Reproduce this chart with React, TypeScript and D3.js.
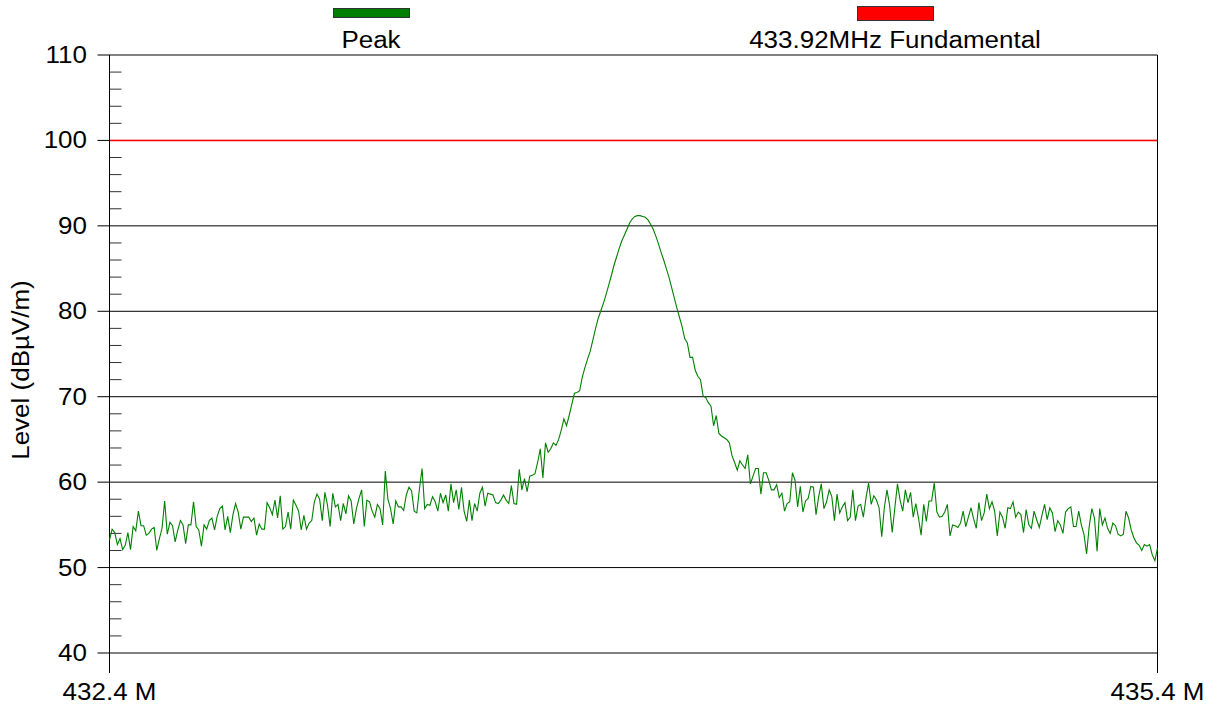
import React from "react";
import * as d3 from "d3";

// ---- Data ----
const startFreqMHz = 432.4;
const stopFreqMHz = 435.4;
const limitLevel = 100; // 433.92MHz Fundamental limit
const yTicks = [40, 50, 60, 70, 80, 90, 100, 110];
const yMinorTicks = [42, 44, 46, 48, 52, 54, 56, 58, 62, 64, 66, 68, 72, 74, 76, 78, 82, 84, 86, 88, 92, 94, 96, 98, 102, 104, 106, 108];
const xTickLabels = ["432.4 M", "435.4 M"];
const legendNames = ["Peak", "433.92MHz Fundamental"];

const peakLow1 = [53.2, 54.5, 54.1, 52.7, 53.4, 52.1, 52.6, 54.1, 52.1, 54.8, 54.3, 56.6, 54.9, 54.9, 53.8, 54.0, 54.5, 54.7, 52.0, 53.4, 54.6, 57.8, 53.9, 55.3, 54.9, 53.0, 54.4, 55.5, 55.0, 52.8, 55.0, 55.0, 57.7, 54.8, 54.4, 52.5, 55.0, 54.5, 55.5, 55.8, 54.4, 56.0, 56.9, 57.2, 54.4, 56.0, 54.1, 56.2, 57.5, 56.5, 54.5, 55.9, 55.9, 55.9, 55.4, 55.8, 53.8, 55.1, 54.5, 54.5, 57.6, 57.0, 56.2, 57.9, 55.8, 58.4];
const peakLow2 = [54.5, 54.8, 56.5, 54.5, 57.9, 57.3, 56.6, 54.4, 56.1, 54.5, 55.2, 55.5, 57.7, 58.6, 58.0, 55.5, 58.8, 57.3, 54.8, 58.7, 57.1, 57.4, 55.5, 57.5, 56.3, 58.4, 57.8, 55.1, 56.9, 58.1, 59.1, 54.8, 57.9, 57.7, 56.6, 55.9, 57.4, 56.9, 55.0, 61.3, 58.0, 56.9, 55.1, 57.8, 57.1, 57.1, 56.7, 58.5, 59.4, 59.0, 56.6, 56.4, 59.2, 61.6, 56.9, 57.4, 57.3, 58.3, 57.7, 56.6, 58.7, 57.6, 58.5, 56.6, 59.8, 57.6];
const peakRise = [59.1, 56.8, 59.4, 56.6, 55.4, 57.9, 55.5, 57.5, 56.6, 58.7, 59.4, 57.2, 58.7, 58.6, 58.5, 57.6, 57.5, 57.9, 58.5, 57.9, 57.5, 59.6, 57.5, 57.4, 61.5, 59.1, 60.4, 58.9, 60.7, 60.8, 61.0, 62.3, 63.9, 60.5, 64.6, 63.5, 63.9, 64.6, 64.3, 65.0, 66.1, 67.4, 66.6, 67.8, 69.1, 70.4, 70.5, 70.7];
const peakTop = [72.3, 73.4, 74.4, 75.3, 76.6, 77.9, 79.1, 80.0, 80.9, 81.9, 83.0, 84.1, 85.3, 86.3, 87.3, 88.2, 88.9, 89.6, 90.3, 90.8, 91.1, 91.2, 91.2, 91.1, 91.0, 90.7, 90.2, 89.6, 88.8, 87.9, 86.9, 86.0, 85.0, 84.0, 82.8, 81.6, 80.4, 79.3, 78.2, 76.8, 76.3, 74.6, 74.6, 73.1, 72.4, 72.0];
const peakFall = [70.1, 69.9, 69.3, 68.9, 66.6, 67.8, 65.7, 65.4, 65.2, 65.0, 64.6, 63.1, 62.3, 61.4, 62.5, 62.0, 61.6, 63.2, 59.8, 60.7, 61.6, 61.6, 58.6, 61.1, 61.1, 60.2, 59.1, 59.1, 59.7, 58.2, 58.7, 56.6, 57.5, 57.7, 61.1, 60.2, 57.1, 59.5, 56.5, 57.8, 58.1, 59.5, 59.4, 56.2, 58.3];
const peakHigh1 = [59.8, 56.9, 57.7, 59.1, 58.3, 55.5, 58.6, 56.4, 57.1, 57.6, 55.5, 55.9, 59.1, 55.5, 57.2, 57.4, 55.9, 58.1, 59.9, 57.4, 58.4, 57.9, 57.0, 53.6, 57.0, 59.1, 57.3, 54.1, 57.0, 59.8, 57.9, 56.6, 59.1, 57.6, 58.8, 55.9, 57.5, 55.8, 53.8, 57.4, 55.4, 57.8, 57.8, 59.9, 56.5, 55.9, 56.0, 56.5, 57.4, 53.7, 55.0, 54.9, 54.7, 55.2, 56.6, 54.8, 55.9, 57.0, 55.7, 54.6, 57.6, 55.5, 56.4, 58.6, 56.9];
const peakHigh2 = [57.7, 56.6, 53.7, 56.5, 55.9, 54.6, 57.0, 56.9, 57.7, 55.9, 56.5, 56.2, 54.1, 56.8, 55.0, 54.6, 56.6, 55.6, 54.7, 56.1, 57.4, 55.6, 57.0, 56.4, 54.2, 55.5, 55.0, 54.0, 56.5, 56.9, 57.1, 54.8, 54.8, 56.6, 55.0, 53.9, 51.6, 54.8, 56.9, 55.8, 51.9, 56.9, 55.0, 55.8, 54.6, 54.0, 55.2, 54.9, 53.9, 53.7, 53.9, 56.6, 55.8, 54.4, 53.5, 52.9, 52.6, 52.0, 52.7, 52.5, 52.7, 51.5, 50.8, 52.3];

const peakLevels = [...peakLow1, ...peakLow2, ...peakRise, ...peakTop, ...peakFall, ...peakHigh1, ...peakHigh2];

const FONT = "'Liberation Sans', Arial, Helvetica, sans-serif";
const FS = 23;
const SX = 1.13;

export default function App() {
  const W = 1211;
  const H = 709;
  const left = 109.5;
  const right = 1157.5;
  const top = 55;
  const bottom = 653;

  const x = d3.scaleLinear().domain([startFreqMHz, stopFreqMHz]).range([left, right]);
  const y = d3.scaleLinear().domain([40, 110]).range([bottom, top]);

  const n = peakLevels.length;
  const step = (stopFreqMHz - startFreqMHz) / (n - 1);
  const pts: [number, number][] = peakLevels.map((v, i) => [startFreqMHz + i * step, v]);
  const line = d3
    .line<[number, number]>()
    .x((d) => x(d[0]))
    .y((d) => y(d[1]));

  const label = (tx: number, ty: number, text: string, anchor: string, rotate = 0, key?: string) => (
    <g key={key ?? text} transform={`translate(${tx},${ty}) rotate(${rotate}) scale(${SX},1)`}>
      <text x={0} y={0} textAnchor={anchor} fontFamily={FONT} fontSize={FS} fill="#000">
        {text}
      </text>
    </g>
  );

  return (
    <svg
      width={W}
      height={H}
      style={{ position: "absolute", left: 0, top: 0, background: "#fff" }}
    >
      <rect x={0} y={0} width={W} height={H} fill="#fff" />
      {/* gridlines + major ticks */}
      {yTicks.map((t) => (
        <line key={"g" + t} x1={97.5} x2={right} y1={y(t)} y2={y(t)} stroke="#000" strokeWidth={1} />
      ))}
      {/* minor ticks */}
      {yMinorTicks.map((t) => (
        <line key={"m" + t} x1={left} x2={left + 12} y1={y(t)} y2={y(t)} stroke="#333" strokeWidth={1} />
      ))}
      {/* limit line */}
      <line x1={left} x2={right} y1={y(limitLevel)} y2={y(limitLevel)} stroke="#ff0000" strokeWidth={1.5} />
      {/* axes */}
      <line x1={left} x2={left} y1={top} y2={bottom + 20} stroke="#000" strokeWidth={1} />
      <line x1={right} x2={right} y1={top} y2={bottom + 20} stroke="#000" strokeWidth={1} />
      {/* trace */}
      <path d={line(pts) ?? ""} fill="none" stroke="#008000" strokeWidth={1.1} />
      {/* y tick labels */}
      {yTicks.map((t) => label(87, y(t) + 8, String(t), "end", 0, "yl" + t))}
      {/* x tick labels */}
      {label(x(startFreqMHz), 700, xTickLabels[0], "middle")}
      {label(x(stopFreqMHz), 700, xTickLabels[1], "middle")}
      {/* y axis title */}
      {label(29, 370, "Level (dBµV/m)", "middle", -90)}
      {/* legend */}
      <rect x={333.5} y={8.5} width={76} height={9} fill="#008000" stroke="#333" strokeWidth={1} />
      {label(371, 48, legendNames[0], "middle")}
      <rect x={857.5} y={6.5} width={76} height={14} fill="#ff0000" stroke="#333" strokeWidth={1} />
      {label(895, 48, legendNames[1], "middle")}
    </svg>
  );
}
